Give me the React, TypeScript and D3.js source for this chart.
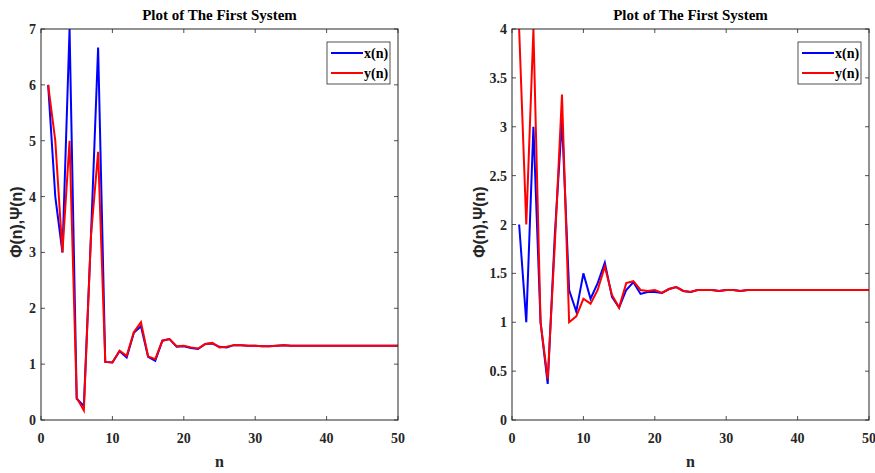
import React, { useEffect, useRef } from "react"
import * as d3 from "d3"

// n = 1..50
const nValues = d3.range(1, 51)

// left panel
const leftX = [6, 4, 3, 7, 0.38, 0.25, 3.3, 6.67, 1.04, 1.03,
  1.23, 1.12, 1.56, 1.68, 1.13, 1.06, 1.42, 1.45, 1.31, 1.32,
  1.29, 1.27, 1.36, 1.37, 1.31, 1.3, 1.34, 1.34, 1.33, 1.33,
  1.32, 1.32, 1.33, 1.34, 1.33, 1.33, 1.33, 1.33, 1.33, 1.33,
  1.33, 1.33, 1.33, 1.33, 1.33, 1.33, 1.33, 1.33, 1.33, 1.33]
const leftY = [6, 5, 3, 5, 0.4, 0.17, 3.3, 4.8, 1.04, 1.03,
  1.24, 1.15, 1.57, 1.75, 1.14, 1.09, 1.42, 1.45, 1.32, 1.33,
  1.3, 1.28, 1.36, 1.38, 1.3, 1.31, 1.34, 1.34, 1.33, 1.33,
  1.32, 1.32, 1.33, 1.34, 1.33, 1.33, 1.33, 1.33, 1.33, 1.33,
  1.33, 1.33, 1.33, 1.33, 1.33, 1.33, 1.33, 1.33, 1.33, 1.33]

// right panel
const rightX = [2, 1, 3, 1, 0.37, 1.9, 3.07, 1.33, 1.11, 1.5,
  1.24, 1.4, 1.61, 1.26, 1.15, 1.33, 1.41, 1.29, 1.31, 1.31,
  1.3, 1.34, 1.36, 1.32, 1.31, 1.33, 1.33, 1.33, 1.32, 1.33,
  1.33, 1.32, 1.33, 1.33, 1.33, 1.33, 1.33, 1.33, 1.33, 1.33,
  1.33, 1.33, 1.33, 1.33, 1.33, 1.33, 1.33, 1.33, 1.33, 1.33]
const rightY = [4, 2, 4, 1, 0.42, 1.8, 3.33, 1.0, 1.06, 1.24,
  1.19, 1.33, 1.57, 1.28, 1.15, 1.4, 1.42, 1.33, 1.32, 1.33,
  1.3, 1.34, 1.36, 1.32, 1.31, 1.33, 1.33, 1.33, 1.32, 1.33,
  1.33, 1.32, 1.33, 1.33, 1.33, 1.33, 1.33, 1.33, 1.33, 1.33,
  1.33, 1.33, 1.33, 1.33, 1.33, 1.33, 1.33, 1.33, 1.33, 1.33]

const xTicks = [0, 10, 20, 30, 40, 50]
const leftYTicks = [0, 1, 2, 3, 4, 5, 6, 7]
const rightYTicks = [0, 0.5, 1, 1.5, 2, 2.5, 3, 3.5, 4]

const titleText = "Plot of The First System"
const legendNames = ["x(n)", "y(n)"]

const serif = "'Liberation Serif', 'Times New Roman', serif"
const sans = "'Liberation Sans', Arial, sans-serif"
const axisColor = "#262626"

function drawPanel(svg, id, left, xs, ys, yMax, yTicks, labelGap) {
  const top = 29
  const bottom = 420
  const width = 357
  const g = svg.append("g")
  const x = d3.scaleLinear().domain([0, 50]).range([left, left + width])
  const y = d3.scaleLinear().domain([0, yMax]).range([bottom, top])

  g.append("clipPath").attr("id", id)
    .append("rect")
    .attr("x", left).attr("y", top)
    .attr("width", width).attr("height", bottom - top)

  // ticks, inside on all four sides
  xTicks.forEach(t => {
    g.append("line").attr("x1", x(t)).attr("x2", x(t))
      .attr("y1", bottom).attr("y2", bottom - 4)
      .attr("stroke", axisColor).attr("stroke-width", 0.8)
    g.append("line").attr("x1", x(t)).attr("x2", x(t))
      .attr("y1", top).attr("y2", top + 4)
      .attr("stroke", axisColor).attr("stroke-width", 0.8)
    g.append("text").attr("x", x(t)).attr("y", bottom + 23)
      .attr("text-anchor", "middle")
      .attr("font-family", serif).attr("font-weight", "bold")
      .attr("font-size", 14).attr("fill", axisColor)
      .text(t)
  })
  yTicks.forEach(t => {
    g.append("line").attr("x1", left).attr("x2", left + 4)
      .attr("y1", y(t)).attr("y2", y(t))
      .attr("stroke", axisColor).attr("stroke-width", 0.8)
    g.append("line").attr("x1", left + width).attr("x2", left + width - 4)
      .attr("y1", y(t)).attr("y2", y(t))
      .attr("stroke", axisColor).attr("stroke-width", 0.8)
    g.append("text").attr("x", left - 5).attr("y", y(t) + 5)
      .attr("text-anchor", "end")
      .attr("font-family", serif).attr("font-weight", "bold")
      .attr("font-size", 14).attr("fill", axisColor)
      .text(t)
  })

  const line = d3.line()
    .x((d, i) => x(nValues[i]))
    .y(d => y(d))

  g.append("path").datum(xs)
    .attr("d", line)
    .attr("fill", "none").attr("stroke", "#0000ff")
    .attr("stroke-width", 2).attr("stroke-linejoin", "miter")
    .attr("clip-path", `url(#${id})`)
  g.append("path").datum(ys)
    .attr("d", line)
    .attr("fill", "none").attr("stroke", "#ff0000")
    .attr("stroke-width", 2).attr("stroke-linejoin", "miter")
    .attr("clip-path", `url(#${id})`)

  // box
  g.append("rect")
    .attr("x", left).attr("y", top)
    .attr("width", width).attr("height", bottom - top)
    .attr("fill", "none").attr("stroke", axisColor).attr("stroke-width", 1)

  // title + labels
  const cx = left + width / 2
  g.append("text").attr("x", cx).attr("y", 20)
    .attr("text-anchor", "middle")
    .attr("font-family", serif).attr("font-weight", "bold")
    .attr("font-size", 15).attr("fill", "#000")
    .text(titleText)
  g.append("text").attr("x", cx).attr("y", 467)
    .attr("text-anchor", "middle")
    .attr("font-family", serif).attr("font-weight", "bold")
    .attr("font-size", 16).attr("fill", axisColor)
    .text("n")
  g.append("text")
    .attr("transform", `translate(${left - labelGap},222) rotate(-90)`)
    .attr("text-anchor", "middle")
    .attr("font-family", sans).attr("font-weight", "bold")
    .attr("font-size", 16).attr("fill", axisColor)
    .text("Φ(n),Ψ(n)")

  // legend
  const lx = left + width - 71
  const leg = g.append("g")
  leg.append("rect")
    .attr("x", lx).attr("y", 42).attr("width", 63).attr("height", 42)
    .attr("fill", "#fff").attr("stroke", axisColor).attr("stroke-width", 0.8)
  ;["#0000ff", "#ff0000"].forEach((c, i) => {
    leg.append("line")
      .attr("x1", lx + 4).attr("x2", lx + 36)
      .attr("y1", 53 + i * 20).attr("y2", 53 + i * 20)
      .attr("stroke", c).attr("stroke-width", 2)
    leg.append("text")
      .attr("x", lx + 37).attr("y", 58 + i * 20)
      .attr("font-family", serif).attr("font-weight", "bold")
      .attr("font-size", 14).attr("fill", "#000")
      .text(legendNames[i])
  })
}

export default function App() {
  const ref = useRef(null)

  useEffect(() => {
    const svg = d3.select(ref.current)
    svg.selectAll("*").remove()
    drawPanel(svg, "clipL", 41, leftX, leftY, 7, leftYTicks, 19)
    drawPanel(svg, "clipR", 512, rightX, rightY, 4, rightYTicks, 27)
  }, [])

  return (
    <svg ref={ref} width={875} height={473}
      style={{ position: "absolute", left: 0, top: 0, background: "#fff" }} />
  )
}
